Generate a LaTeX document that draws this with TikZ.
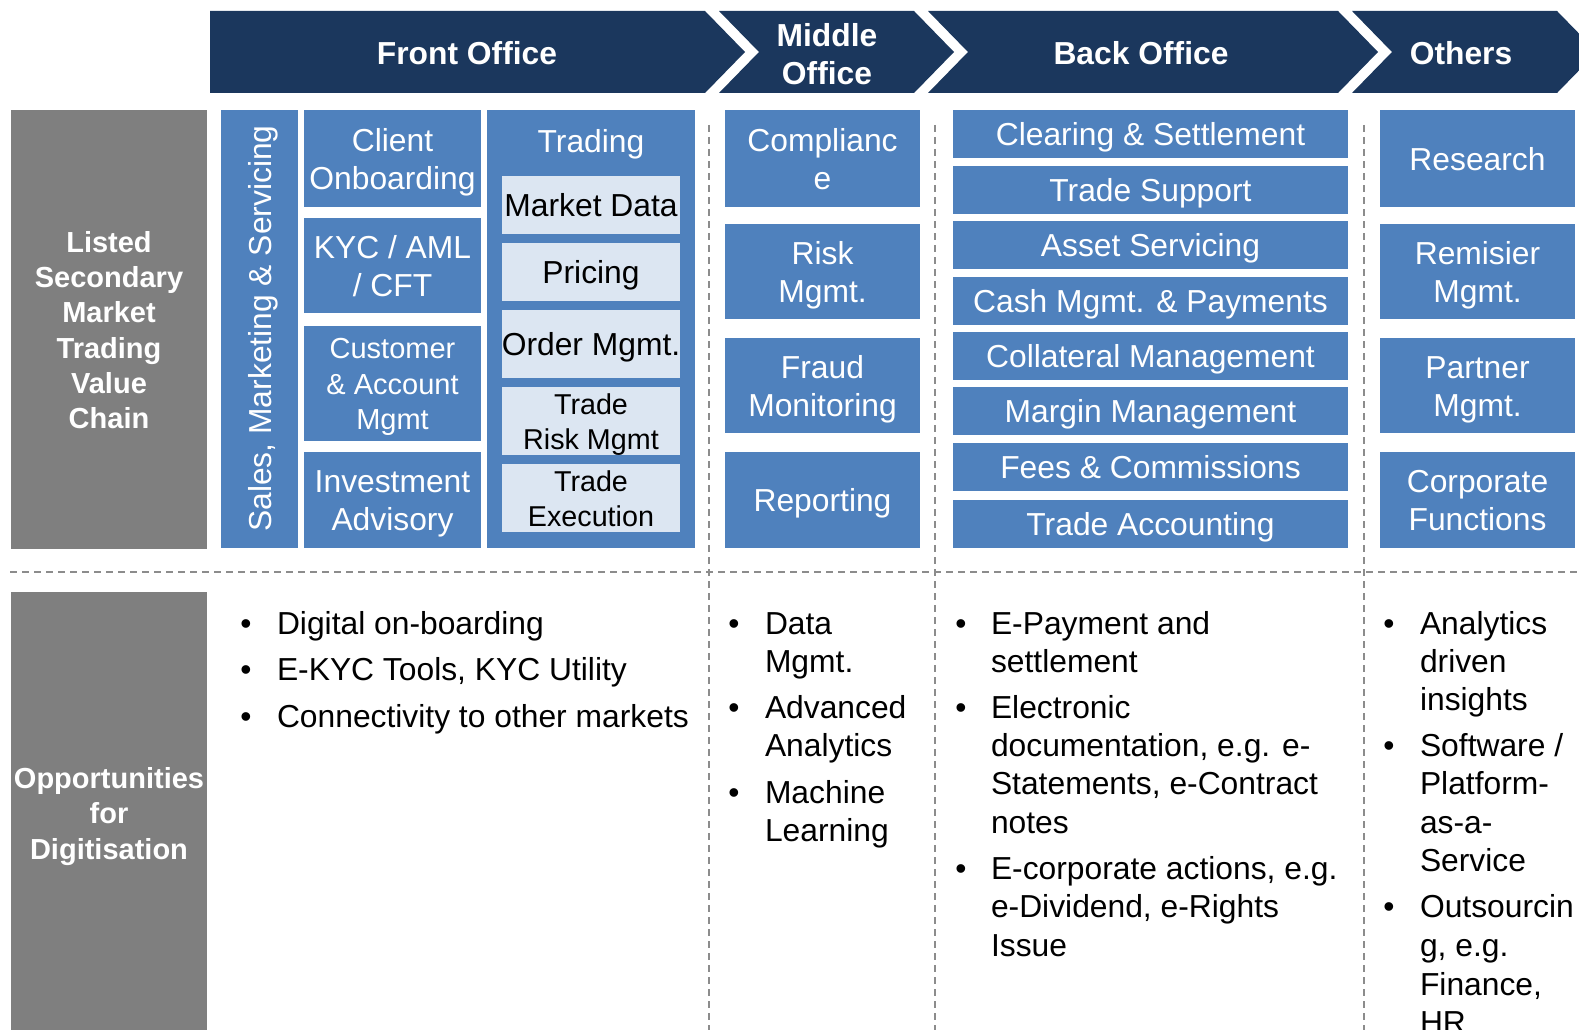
\documentclass[tikz,border=0pt]{standalone}
\usepackage{fontspec}
\setmainfont{Liberation Sans}
\definecolor{navy}{HTML}{1B375D}
\definecolor{boxblue}{HTML}{4F81BD}
\definecolor{paleblue}{HTML}{DCE6F2}
\definecolor{sidegray}{HTML}{7F7F7F}
\definecolor{sepgray}{HTML}{8C8C8C}
\newcommand\fs[2]{\fontsize{#1}{#2}\selectfont}
% uniform line height so that every label centres the same way
\newcommand\sr{\rule[-0.21em]{0pt}{1.17em}}
\newcommand\tx[1]{\sr#1\sr}
\tikzset{
  every node/.style={inner sep=0pt, outer sep=0pt},
  bluebox/.style={fill=boxblue, text=white, align=center, font=\fs{31.8}{38}},
  palebox/.style={fill=paleblue, text=black, align=center, font=\fs{31.8}{38}},
  sidebox/.style={fill=sidegray, text=white, align=center, font=\fs{29}{35.3}\bfseries},
  headtext/.style={text=white, align=center, font=\fs{31.8}{38}\bfseries},
  optext/.style={text=black, font=\fs{31.8}{38}},
  sepline/.style={draw=sepgray, line width=2pt, dash pattern=on 7pt off 5pt},
}
\newcommand\opl[4]{\node[optext, anchor=base west] (#1) at (#2,#3) {#4};}
\newcommand\opb[3]{\node[optext, anchor=base] (#1) at (#2,#3) {\textbullet};}
\begin{document}
\begin{tikzpicture}[x=1pt,y=-1pt]
\useasboundingbox (0,0) rectangle (1579,1030);
\clip (0,0) rectangle (1579,1030);

% ---- header chevrons ----
\fill[navy] (210,11) -- (705,11) -- (745,52) -- (705,93) -- (210,93) -- cycle;
\fill[navy] (719,11) -- (914,11) -- (954,52) -- (914,93) -- (719,93) -- (759,52) -- cycle;
\fill[navy] (928,11) -- (1338,11) -- (1378,52) -- (1338,93) -- (928,93) -- (968,52) -- cycle;
\fill[navy] (1352,11) -- (1557,11) -- (1597,52) -- (1557,93) -- (1352,93) -- (1392,52) -- cycle;
\node[headtext] (hfront) at (467,52.7) {\tx{Front Office}};
\node[headtext] (hmiddle) at (827,53.2) {\tx{Middle\\Office}};
\node[headtext] (hback) at (1141,52.7) {\tx{Back Office}};
\node[headtext] (hothers) at (1461,52.7) {\tx{Others}};

% ---- separators ----
\coordinate (s1t) at (709,125); \coordinate (s1b) at (709,1030);
\coordinate (s2t) at (935,125); \coordinate (s2b) at (935,1030);
\coordinate (s3t) at (1364,125); \coordinate (s3b) at (1364,1030);
\coordinate (hl) at (10,572); \coordinate (hr) at (1579,572);
\draw[sepline] (s1t) -- (s1b);
\draw[sepline] (s2t) -- (s2b);
\draw[sepline] (s3t) -- (s3b);
\draw[sepline] (hl) -- (hr);

% ---- row labels ----
\node[sidebox, minimum width=196, minimum height=438] (listed) at (109,329.5)
  {\tx{Listed\\Secondary\\Market\\Trading\\Value\\Chain}};
\node[sidebox, minimum width=196, minimum height=442] (oppdig) at (109,813)
  {\tx{Opportunities\\for\\Digitisation}};

% ---- front office ----
\node[fill=boxblue, minimum width=77, minimum height=438] (sales) at (259.5,329) {};
\node[text=white, font=\fs{31.8}{38}, rotate=90] (salestxt) at (259.5,328.5)
  {\tx{Sales, Marketing \& Servicing}};
\node[bluebox, minimum width=177, minimum height=97] (client) at (392.5,158.5) {\tx{Client\\Onboarding}};
\node[bluebox, minimum width=177, minimum height=95] (kyc) at (392.5,265.5) {\tx{KYC / AML\\/ CFT}};
\node[bluebox, font=\fs{29}{35.5}, minimum width=177, minimum height=115] (cust) at (392.5,383.5) {\tx{Customer\\\& Account\\Mgmt}};
\node[bluebox, minimum width=177, minimum height=96] (invest) at (392.5,500) {\tx{Investment\\Advisory}};

\node[fill=boxblue, minimum width=208, minimum height=438] (trading) at (591,329) {};
\node[text=white, font=\fs{31.8}{38}] (tradinglbl) at (591,141) {\tx{Trading}};
\node[palebox, minimum width=178, minimum height=58] (mktdata) at (591,205) {\tx{Market Data}};
\node[palebox, minimum width=178, minimum height=58] (pricing) at (591,272) {\tx{Pricing}};
\node[palebox, minimum width=178, minimum height=68] (order) at (591,344) {\tx{Order Mgmt.}};
\node[palebox, font=\fs{28.7}{35}, minimum width=178, minimum height=68] (trisk) at (591,421) {\tx{Trade\\Risk Mgmt}};
\node[palebox, font=\fs{28.7}{35}, minimum width=178, minimum height=68] (texec) at (591,498) {\tx{Trade\\Execution}};

% ---- middle office ----
\node[bluebox, minimum width=195, minimum height=97] (compl) at (822.5,158.5) {\tx{Complianc\\e}};
\node[bluebox, minimum width=195, minimum height=95] (riskm) at (822.5,271.5) {\tx{Risk\\Mgmt.}};
\node[bluebox, minimum width=195, minimum height=95] (fraud) at (822.5,385.5) {\tx{Fraud\\Monitoring}};
\node[bluebox, minimum width=195, minimum height=96] (report) at (822.5,500) {\tx{Reporting}};

% ---- back office ----
\node[bluebox, minimum width=395, minimum height=48] (clear) at (1150.5,134) {\tx{Clearing \& Settlement}};
\node[bluebox, minimum width=395, minimum height=48] (tsupp) at (1150.5,190) {\tx{Trade Support}};
\node[bluebox, minimum width=395, minimum height=48] (asset) at (1150.5,245) {\tx{Asset Servicing}};
\node[bluebox, minimum width=395, minimum height=48] (cash) at (1150.5,301) {\tx{Cash Mgmt. \& Payments}};
\node[bluebox, minimum width=395, minimum height=48] (collat) at (1150.5,356) {\tx{Collateral Management}};
\node[bluebox, minimum width=395, minimum height=48] (margin) at (1150.5,411) {\tx{Margin Management}};
\node[bluebox, minimum width=395, minimum height=48] (fees) at (1150.5,467) {\tx{Fees \& Commissions}};
\node[bluebox, minimum width=395, minimum height=48] (tacct) at (1150.5,524) {\tx{Trade Accounting}};

% ---- others ----
\node[bluebox, minimum width=195, minimum height=97] (research) at (1477.5,158.5) {\tx{Research}};
\node[bluebox, minimum width=195, minimum height=95] (remis) at (1477.5,271.5) {\tx{Remisier\\Mgmt.}};
\node[bluebox, minimum width=195, minimum height=95] (partner) at (1477.5,385.5) {\tx{Partner\\Mgmt.}};
\node[bluebox, minimum width=195, minimum height=96] (corp) at (1477.5,500) {\tx{Corporate\\Functions}};

% ---- opportunities: front office ----
\opb{fb1}{246}{634.5} \opl{ft1}{277}{634.5}{Digital on-boarding}
\opb{fb2}{246}{680}   \opl{ft2}{277}{680}{E-KYC Tools, KYC Utility}
\opb{fb3}{246}{727}   \opl{ft3}{277}{727}{Connectivity to other markets}

% ---- opportunities: middle office ----
\opb{mb1}{734}{634.5} \opl{mt1}{765}{634.5}{Data}
                      \opl{mt2}{765}{672}{Mgmt.}
\opb{mb2}{734}{718.5} \opl{mt3}{765}{718.5}{Advanced}
                      \opl{mt4}{765}{756.7}{Analytics}
\opb{mb3}{734}{803}   \opl{mt5}{765}{803}{Machine}
                      \opl{mt6}{765}{841.3}{Learning}

% ---- opportunities: back office ----
\opb{bb1}{961}{634.5} \opl{bt1}{991}{634.5}{E-Payment and}
                      \opl{bt2}{991}{672}{settlement}
\opb{bb2}{961}{718.5} \opl{bt3}{991}{718.5}{Electronic}
                      \opl{bt4}{991}{756.7}{documentation, e.g. e-}
                      \opl{bt5}{991}{794.9}{Statements, e-Contract}
                      \opl{bt6}{991}{833.2}{notes}
\opb{bb3}{961}{879.5} \opl{bt7}{991}{879.5}{E-corporate actions, e.g.}
                      \opl{bt8}{991}{917.8}{e-Dividend, e-Rights}
                      \opl{bt9}{991}{956.1}{Issue}

% ---- opportunities: others ----
\opb{ob1}{1389}{634.5} \opl{ot1}{1420}{634.5}{Analytics}
                       \opl{ot2}{1420}{672.4}{driven}
                       \opl{ot3}{1420}{710.6}{insights}
\opb{ob2}{1389}{756.7} \opl{ot4}{1420}{756.7}{Software /}
                       \opl{ot5}{1420}{794.9}{Platform-}
                       \opl{ot6}{1420}{833.2}{as-a-}
                       \opl{ot7}{1420}{871.5}{Service}
\opb{ob3}{1389}{917.8} \opl{ot8}{1420}{917.8}{Outsourcin}
                       \opl{ot9}{1420}{956.1}{g, e.g.}
                       \opl{ot10}{1420}{995}{Finance,}
                       \opl{ot11}{1420}{1033.5}{HR}
\end{tikzpicture}
\end{document}
